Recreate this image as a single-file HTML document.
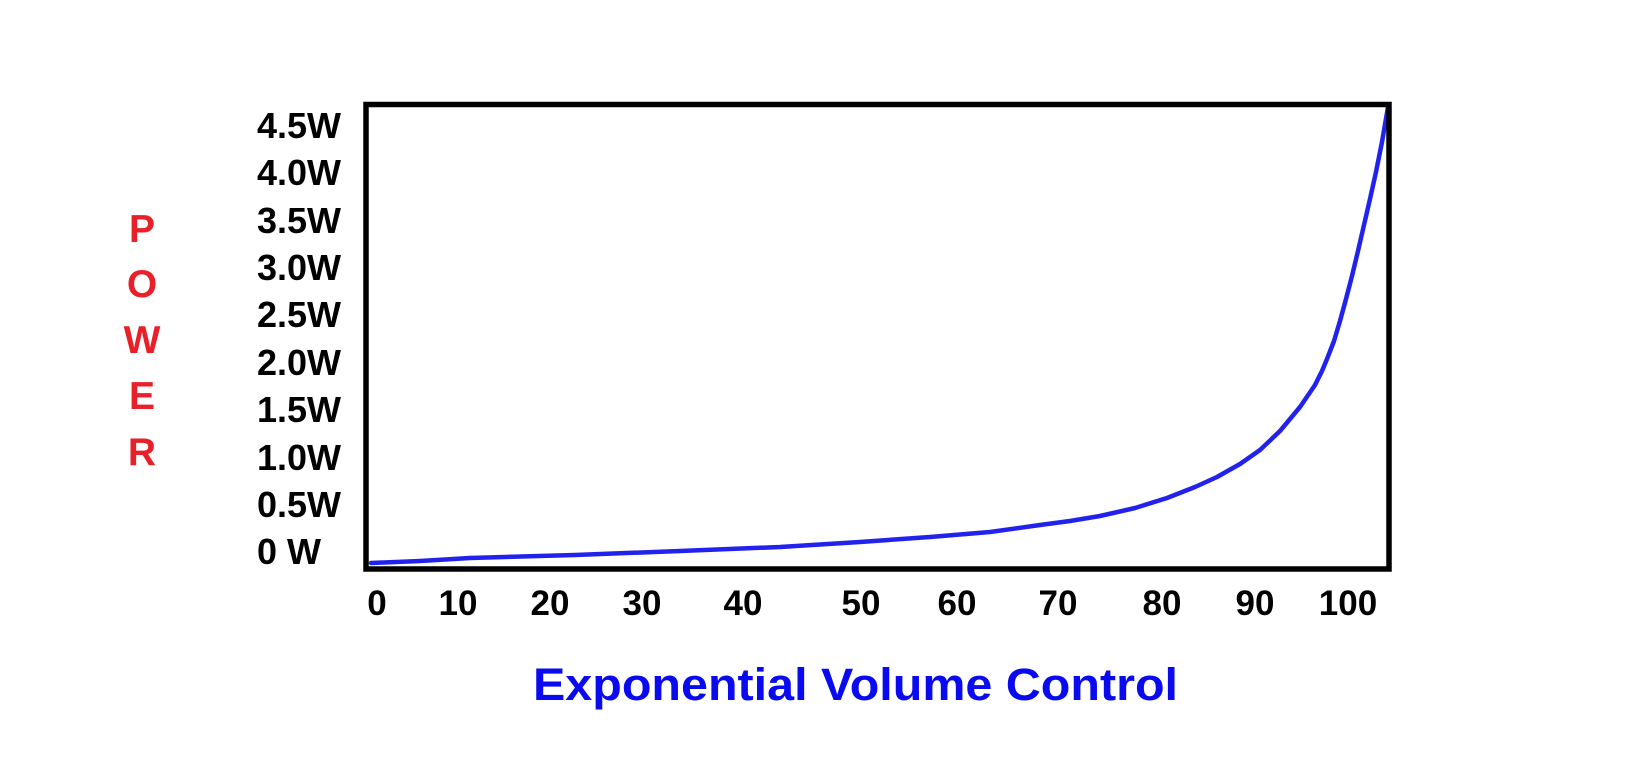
<!DOCTYPE html>
<html>
<head>
<meta charset="utf-8">
<style>
  html, body { margin: 0; padding: 0; background: #ffffff; }
  body { width: 1636px; height: 778px; overflow: hidden; }
  svg { display: block; }
  .yl { font-family: "Liberation Sans", "DejaVu Sans", sans-serif; font-weight: bold; font-size: 36px; fill: #000; }
  .xl { font-family: "Liberation Sans", "DejaVu Sans", sans-serif; font-weight: bold; font-size: 35px; fill: #000; }
  .pw { font-family: "Liberation Sans", "DejaVu Sans", sans-serif; font-weight: bold; font-size: 39px; fill: #e8202a; }
  .tt { font-family: "Liberation Sans", "DejaVu Sans", sans-serif; font-weight: bold; font-size: 45px; fill: #0a0af0; }
</style>
</head>
<body>
<svg width="1636" height="778" viewBox="0 0 1636 778" xmlns="http://www.w3.org/2000/svg">
  <rect x="0" y="0" width="1636" height="778" fill="#ffffff"/>

  <!-- curve -->
  <polyline fill="none" stroke="#2222ee" stroke-width="4.5" stroke-linejoin="round" stroke-linecap="round"
    points="371,563 420,561 470,558 575,555 680,551 780,547 860,542 930,537 990,532 1040,525 1070,521 1100,516 1135,508 1167,498 1195,487 1217,477 1240,464 1260,450 1280,431 1300,407 1315,385 1322,371 1327,359 1334,341 1340,321 1346,299 1352,276 1358,251 1364,225 1370,199 1376,172 1382,142 1388,107"/>

  <!-- frame -->
  <rect x="366" y="104.5" width="1023" height="464.5" fill="none" stroke="#000" stroke-width="5.5"/>

  <!-- y labels -->
  <text class="yl" x="257" y="138">4.5W</text>
  <text class="yl" x="257" y="185">4.0W</text>
  <text class="yl" x="257" y="233">3.5W</text>
  <text class="yl" x="257" y="280">3.0W</text>
  <text class="yl" x="257" y="327">2.5W</text>
  <text class="yl" x="257" y="375">2.0W</text>
  <text class="yl" x="257" y="422">1.5W</text>
  <text class="yl" x="257" y="470">1.0W</text>
  <text class="yl" x="257" y="517">0.5W</text>
  <text class="yl" x="257" y="564">0 W</text>

  <!-- x labels -->
  <g text-anchor="middle">
    <text class="xl" x="377" y="615">0</text>
    <text class="xl" x="458" y="615">10</text>
    <text class="xl" x="550" y="615">20</text>
    <text class="xl" x="642" y="615">30</text>
    <text class="xl" x="743" y="615">40</text>
    <text class="xl" x="861" y="615">50</text>
    <text class="xl" x="957" y="615">60</text>
    <text class="xl" x="1058" y="615">70</text>
    <text class="xl" x="1162" y="615">80</text>
    <text class="xl" x="1255" y="615">90</text>
    <text class="xl" x="1348" y="615">100</text>
  </g>

  <!-- POWER -->
  <g text-anchor="middle">
    <text class="pw" x="142" y="242">P</text>
    <text class="pw" x="142" y="297">O</text>
    <text class="pw" x="142" y="353">W</text>
    <text class="pw" x="142" y="409">E</text>
    <text class="pw" x="142" y="465">R</text>
  </g>

  <!-- title -->
  <text class="tt" x="533" y="700" textLength="645" lengthAdjust="spacingAndGlyphs">Exponential Volume Control</text>
</svg>
</body>
</html>
